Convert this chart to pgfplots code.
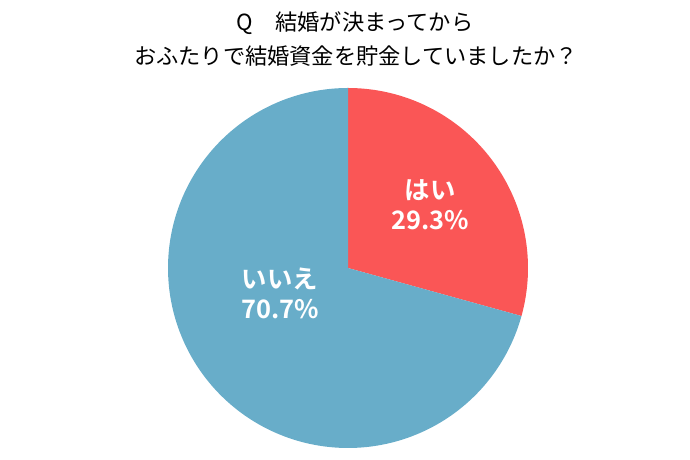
\documentclass[border=0pt]{standalone}
\usepackage{pgfplots}
\usepackage{pgfplotstable}
\pgfplotsset{compat=1.18}
\usepackage{fontspec}
\newfontfamily\cjk{Noto Sans CJK JP}
\newfontfamily\cjkb{Noto Sans CJK JP Bold}
\definecolor{yesred}{HTML}{FA5656}
\definecolor{noblue}{HTML}{68ADC9}

\pgfplotstableread{
label share
yes 29.3
no 70.7
}\piedata

\begin{document}
\begin{tikzpicture}
\pgfplotstablegetelem{0}{share}\of\piedata \let\yes\pgfplotsretval
\pgfplotstablegetelem{1}{share}\of\piedata \let\no\pgfplotsretval
\pgfmathsetmacro\cut{90-\yes*3.6}
\begin{axis}[
    scale only axis,
    width=690bp, height=460bp,
    xmin=0, xmax=690, ymin=0, ymax=460,
    hide axis,
    clip=false,
]
    % keep the full canvas in the bounding box
    \path (rel axis cs:0,0) rectangle (rel axis cs:1,1);
    % slices: yes runs clockwise from 12 o'clock, no takes the rest
    \addplot[fill=yesred, draw=none, domain=\cut:90, samples=120]
        ({348+180*cos(x)}, {192+180*sin(x)}) -- (axis cs:348,192) -- cycle;
    \addplot[fill=noblue, draw=none, domain=90:\cut+360, samples=240]
        ({348+180*cos(x)}, {192+180*sin(x)}) -- (axis cs:348,192) -- cycle;

    \node[font=\cjk\fontsize{22.3}{26}\selectfont] at (axis cs:355,437) {Q　結婚が決まってから};
    \node[font=\cjk\fontsize{22.3}{26}\selectfont] at (axis cs:356,404) {おふたりで結婚資金を貯金していましたか？};

    \node[text=white, align=center, font=\cjkb\fontsize{25.5}{30}\selectfont]
        at (axis cs:430,255) {はい\\\yes\%};
    \node[text=white, align=center, font=\cjkb\fontsize{25.5}{30}\selectfont]
        at (axis cs:280,167) {いいえ\\\no\%};
\end{axis}
\end{tikzpicture}
\end{document}
